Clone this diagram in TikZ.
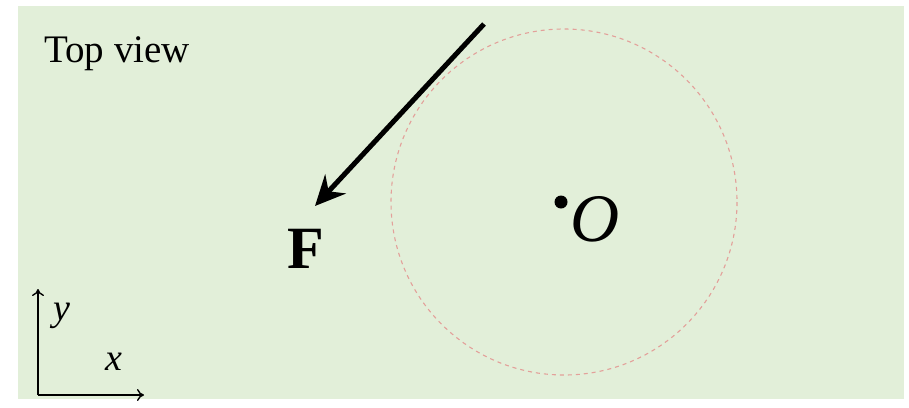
\documentclass[tikz,border=0pt]{standalone}
\usepackage{fontspec}
\setmainfont{Liberation Serif}
\usetikzlibrary{arrows.meta}
\definecolor{bggreen}{HTML}{E2EFD9}
\definecolor{circpink}{HTML}{E3A09A}
\tikzset{
  lbl/.style={inner sep=0pt, text=black},
  axis/.style={line width=1.4pt, -{To[length=7pt,width=12pt]}},
  force/.style={line width=5pt, -{Stealth[length=30pt,width=28pt,inset=10pt]}},
}
\begin{document}
\begin{tikzpicture}[x=1pt,y=-1pt]
\useasboundingbox (0,0) rectangle (909,407);
\fill[white] (0,0) rectangle (909,407);
\fill[bggreen] (18,6) rectangle (904,399);
% dashed circle
\coordinate (C) at (564,202);
\draw[circpink, line width=1.1pt, dash pattern=on 4pt off 4pt] (C) circle[radius=173];
% point O
\fill[black] (561,202) circle[radius=6.5];
\node[lbl, font=\fontsize{68}{68}\selectfont\itshape] (O) at (595,219) {O};
% Top view label
\node[lbl, anchor=base west, font=\fontsize{39}{39}\selectfont] (tv) at (44,62) {Top view};
% force arrow
\coordinate (Fs) at (484,24);
\coordinate (Fe) at (315,206);
\draw[force] (Fs) -- (Fe);
\node[lbl, font=\fontsize{60}{60}\selectfont\bfseries] (F) at (306,249) {F};
% axes
\coordinate (org) at (38,395);
\coordinate (ytip) at (38,289);
\coordinate (xtip) at (144,395);
\draw[axis] (org) -- (ytip);
\draw[axis] (org) -- (xtip);
\node[lbl, font=\fontsize{38}{38}\selectfont\itshape] (ylab) at (62,316) {y};
\node[lbl, font=\fontsize{38}{38}\selectfont\itshape] (xlab) at (114,362) {x};
\end{tikzpicture}
\end{document}
